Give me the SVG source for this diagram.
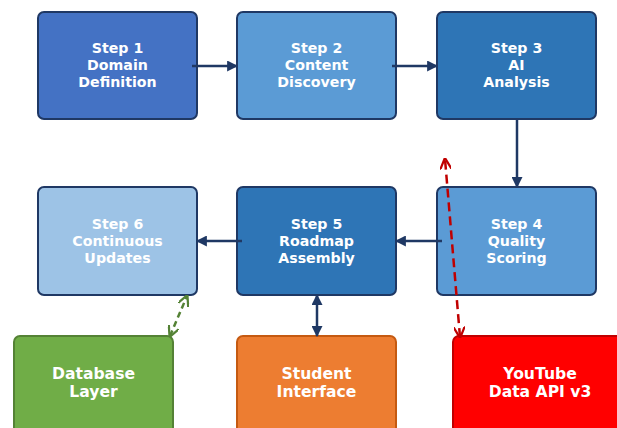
<svg xmlns="http://www.w3.org/2000/svg" width="617" height="428" viewBox="0 0 617 428">
<style>
.b{stroke:#1F3864;stroke-width:2}
.t{font-family:"DejaVu Sans",sans-serif;font-weight:bold;font-size:14.2px;fill:#fff;text-anchor:middle}
.u{font-family:"DejaVu Sans",sans-serif;font-weight:bold;font-size:15.6px;fill:#fff;text-anchor:middle}
.c{fill:none;stroke:#1F3864;stroke-width:2.5}
</style>
<defs>
<marker id="a" viewBox="0 0 10 10" refX="9" refY="5" markerWidth="4.4" markerHeight="4.4" orient="auto-start-reverse"><path d="M0,0L10,5L0,10z" fill="#1F3864"/></marker>
<marker id="g" viewBox="0 0 10 10" refX="9" refY="5" markerWidth="4.5" markerHeight="4.5" orient="auto-start-reverse"><path d="M0,0L10,5L0,10" fill="none" stroke="#548235" stroke-width="2"/></marker>
<marker id="r" viewBox="0 0 10 10" refX="9" refY="5" markerWidth="4.5" markerHeight="4.5" orient="auto-start-reverse"><path d="M0,0L10,5L0,10" fill="none" stroke="#C00000" stroke-width="2"/></marker>
</defs>
<rect width="617" height="428" fill="#fff"/>
<g id="step1"><rect class="b" x="38" y="12" width="159" height="107" rx="6" fill="#4472C4"/><text class="t" x="117.5" y="53">Step 1</text><text class="t" x="117.5" y="70">Domain</text><text class="t" x="117.5" y="87">Definition</text></g>
<g id="step2"><rect class="b" x="237" y="12" width="159" height="107" rx="6" fill="#5B9BD5"/><text class="t" x="316.5" y="53">Step 2</text><text class="t" x="316.5" y="70">Content</text><text class="t" x="316.5" y="87">Discovery</text></g>
<g id="step3"><rect class="b" x="437" y="12" width="159" height="107" rx="6" fill="#2E75B6"/><text class="t" x="516.5" y="53">Step 3</text><text class="t" x="516.5" y="70">AI</text><text class="t" x="516.5" y="87">Analysis</text></g>
<g id="step4"><rect class="b" x="437" y="187" width="159" height="108" rx="6" fill="#5B9BD5"/><text class="t" x="516.5" y="229">Step 4</text><text class="t" x="516.5" y="246">Quality</text><text class="t" x="516.5" y="263">Scoring</text></g>
<g id="step5"><rect class="b" x="237" y="187" width="159" height="108" rx="6" fill="#2E75B6"/><text class="t" x="316.5" y="229">Step 5</text><text class="t" x="316.5" y="246">Roadmap</text><text class="t" x="316.5" y="263">Assembly</text></g>
<g id="step6"><rect class="b" x="38" y="187" width="159" height="108" rx="6" fill="#9DC3E6"/><text class="t" x="117.5" y="229">Step 6</text><text class="t" x="117.5" y="246">Continuous</text><text class="t" x="117.5" y="263">Updates</text></g>
<g id="database"><rect x="14" y="336" width="159" height="110" rx="6" fill="#70AD47" stroke="#548235" stroke-width="2"/><text class="u" x="93.5" y="379">Database</text><text class="u" x="93.5" y="397">Layer</text></g>
<g id="student"><rect x="237" y="336" width="159" height="110" rx="6" fill="#ED7D31" stroke="#C55A11" stroke-width="2"/><text class="u" x="316.5" y="379">Student</text><text class="u" x="316.5" y="397">Interface</text></g>
<g id="youtube"><rect x="453" y="336" width="180" height="110" rx="6" fill="#FF0000" stroke="#C00000" stroke-width="2"/><text class="u" x="540" y="379">YouTube</text><text class="u" x="540" y="397">Data API v3</text></g>
<g id="connectors">
<line class="c" x1="192" y1="66" x2="237" y2="66" marker-end="url(#a)"/>
<line class="c" x1="392" y1="66" x2="437" y2="66" marker-end="url(#a)"/>
<line class="c" x1="517" y1="119" x2="517" y2="187" marker-end="url(#a)"/>
<line class="c" x1="442" y1="241" x2="396" y2="241" marker-end="url(#a)"/>
<line class="c" x1="242" y1="241" x2="197" y2="241" marker-end="url(#a)"/>
<line class="c" x1="317" y1="295" x2="317" y2="336" marker-start="url(#a)" marker-end="url(#a)"/>
<line x1="170" y1="336" x2="187" y2="296" stroke="#548235" stroke-width="2.5" stroke-dasharray="6,4" marker-start="url(#g)" marker-end="url(#g)"/>
<line x1="460" y1="337" x2="445" y2="159" stroke="#C00000" stroke-width="2.5" stroke-dasharray="9,5" marker-start="url(#r)" marker-end="url(#r)"/>
</g>
</svg>
